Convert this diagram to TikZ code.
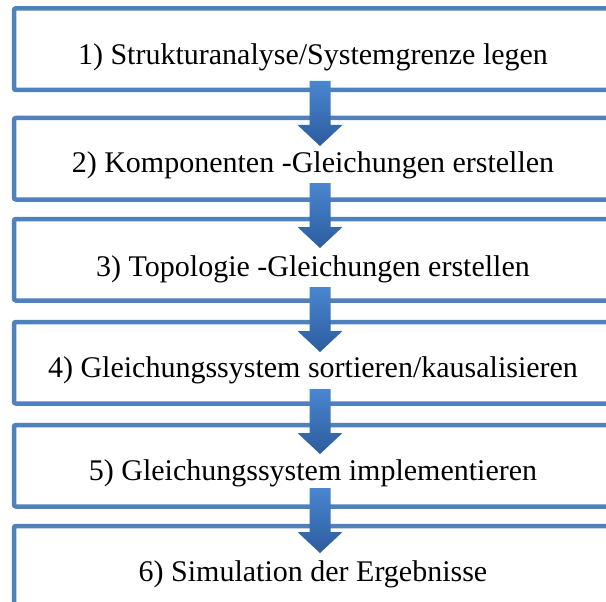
\documentclass[tikz,border=0pt]{standalone}
\usepackage{fontspec}
\setmainfont{Liberation Serif}
\usetikzlibrary{calc}
\definecolor{boxblue}{HTML}{4F81BD}
\definecolor{arrtop}{HTML}{4A86D0}
\definecolor{arrbot}{HTML}{2C5C9E}
\tikzset{
  stepbox/.style={draw=boxblue, line width=4.5pt, rounded corners=2pt, outer sep=0pt,
    inner sep=0pt, minimum width=640pt, anchor=north west},
  steplabel/.style={font=\fontsize{30}{33}\selectfont, anchor=base, inner sep=0pt},
  blockarrow/.style={top color=arrtop, bottom color=arrbot, draw=none},
  downarrow/.pic={\path[blockarrow] (-10.5,0) -- (10.5,0) -- (10.5,44) -- (22.5,44) -- (0,65)
     -- (-22.5,44) -- (-10.5,44) -- cycle;}
}
\begin{document}
\begin{tikzpicture}[x=1pt,y=-1pt]
\useasboundingbox (0,0) rectangle (606,602);
\fill[white] (0,0) rectangle (606,602);
\clip (0,0) rectangle (606,602);
% boxes
\node[stepbox, minimum height=81.7pt] (b1) at (14,8.3) {};
\node[stepbox, minimum height=81.5pt] (b2) at (14,118) {};
\node[stepbox, minimum height=81.5pt] (b3) at (14,219) {};
\node[stepbox, minimum height=81.5pt] (b4) at (14,322) {};
\node[stepbox, minimum height=81.5pt] (b5) at (14,425) {};
\node[stepbox, minimum height=82pt] (b6) at (14,526) {};
% labels
\node[steplabel] (t1) at (313,65) {1) Strukturanalyse/Systemgrenze legen};
\node[steplabel] (t2) at (313,172) {2) Komponenten -Gleichungen erstellen};
\node[steplabel] (t3) at (313,276) {3) Topologie -Gleichungen erstellen};
\node[steplabel] (t4) at (313,377) {4) Gleichungssystem sortieren/kausalisieren};
\node[steplabel] (t5) at (313,480) {5) Gleichungssystem implementieren};
\node[steplabel] (t6) at (313,581) {6) Simulation der Ergebnisse};
% arrows
\coordinate (a1) at (320,81);
\coordinate (a2) at (320,183);
\coordinate (a3) at (320,287);
\coordinate (a4) at (320,389);
\coordinate (a5) at (320,488);
\pic at (a1) {downarrow};
\pic at (a2) {downarrow};
\pic at (a3) {downarrow};
\pic at (a4) {downarrow};
\pic at (a5) {downarrow};
\end{tikzpicture}
\end{document}
